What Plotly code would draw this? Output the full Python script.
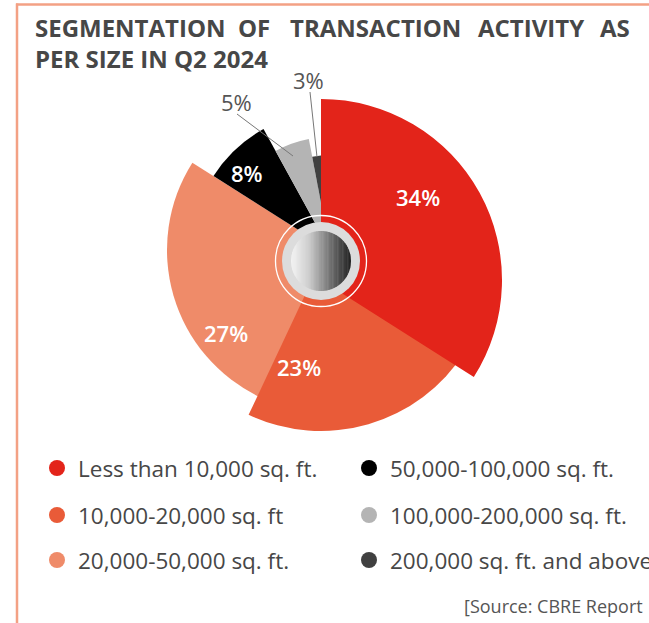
import numpy as np
import plotly.graph_objects as go

# --- data -------------------------------------------------------------
categories = [
    "Less than 10,000 sq. ft.",
    "10,000-20,000 sq. ft",
    "20,000-50,000 sq. ft.",
    "50,000-100,000 sq. ft.",
    "100,000-200,000 sq. ft.",
    "200,000 sq. ft. and above",
]
shares = [34, 23, 27, 8, 5, 3]  # % of transactions
colors = ["#e3241a", "#e95b38", "#ef8b69", "#000000", "#b4b4b4", "#404040"]
title_words_1 = ["SEGMENTATION", "OF", "TRANSACTION", "ACTIVITY", "AS"]
title_line_2 = "PER SIZE IN Q2 2024"
source_note = "[Source: CBRE Report"

# --- styling ----------------------------------------------------------
W, H = 649, 623
CX, CY = 321, 261            # hub centre (px)
HALF = 200                   # half-size of each polar domain (px)
TEXT = "#474747"
BORDER = "#f3a184"

# the exploded-look pie: each slice group has its own pivot and radius
slice_radius = [181, 170, 163, 138, 113, 95]
slice_group = [2, 1, 0, 0, 0, 0]                 # drawing layer per slice
group_pivot = [(330, 250), (321, 261), (321, 280)]


def polar_layout(cx, cy):
    return dict(
        domain=dict(
            x=[(cx - HALF) / W, (cx + HALF) / W],
            y=[(H - cy - HALF) / H, (H - cy + HALF) / H],
        ),
        bgcolor="rgba(0,0,0,0)",
        radialaxis=dict(visible=False, range=[0, HALF]),
        angularaxis=dict(visible=False, direction="clockwise", rotation=90),
        hole=0,
    )


widths = np.array(shares) * 3.6
starts = np.concatenate([[0], np.cumsum(widths)[:-1]])
mids = starts + widths / 2

fig = go.Figure()
polar_names = ["polar", "polar2", "polar3"]
for g, name in enumerate(polar_names):
    idx = [i for i in range(len(shares)) if slice_group[i] == g]
    fig.add_trace(go.Barpolar(
        r=[slice_radius[i] for i in idx],
        theta=[mids[i] for i in idx],
        width=[widths[i] for i in idx],
        marker=dict(color=[colors[i] for i in idx], line=dict(width=0)),
        subplot=name, showlegend=False, hoverinfo="skip",
    ))

# legend dots on a pixel-space overlay
col_x = [57, 369]
row_y = [468, 515, 560]
leg_x = [col_x[i // 3] for i in range(6)]
leg_y = [row_y[i % 3] for i in range(6)]
fig.add_trace(go.Scatter(
    x=leg_x, y=leg_y, mode="markers",
    marker=dict(size=16, color=colors, line=dict(width=0)),
    xaxis="x", yaxis="y", showlegend=False, hoverinfo="skip",
))

annotations = []
for name, x, y in zip(categories, leg_x, leg_y):
    annotations.append(dict(
        x=x + 19, y=y, xref="x", yref="y", text=name, showarrow=False,
        xanchor="left", yanchor="middle",
        font=dict(family="Open Sans", size=22.5, color=TEXT),
    ))

# title, spread across the full width
t_font = dict(family="Open Sans", size=24, color=TEXT, weight="bold")
word_pos = [(33, "left"), (254, "center"), (375, "center"), (531, "center"), (632, "right")]
for word, (x, anchor) in zip(title_words_1, word_pos):
    annotations.append(dict(x=x, y=27, xref="x", yref="y", text=word, showarrow=False,
                            xanchor=anchor, yanchor="middle", font=t_font))
annotations.append(dict(x=33, y=58, xref="x", yref="y", text=title_line_2, showarrow=False,
                        xanchor="left", yanchor="middle", font=t_font))

# value labels
inner_pos = [(418, 197), (299, 367), (226, 333), (247, 173)]
for v, (x, y) in zip(shares[:4], inner_pos):
    annotations.append(dict(x=x, y=y, xref="x", yref="y", text=f"{v}%", showarrow=False,
                            xanchor="center", yanchor="middle",
                            font=dict(family="Open Sans", size=22, color="white", weight=600)))
outer_pos = [(236, 102), (308, 80)]
for v, (x, y) in zip(shares[4:], outer_pos):
    annotations.append(dict(x=x, y=y, xref="x", yref="y", text=f"{v}%", showarrow=False,
                            xanchor="center", yanchor="middle",
                            font=dict(family="Open Sans", size=22, color="#555555")))

annotations.append(dict(x=462, y=606, xref="x", yref="y", text=source_note, showarrow=False,
                        xanchor="left", yanchor="middle",
                        font=dict(family="Open Sans", size=18, color="#555555")))

shapes = [
    # frame
    dict(type="line", xref="x", yref="y", x0=16, x1=W + 5, y0=4.5, y1=4.5,
         line=dict(color=BORDER, width=2.5)),
    dict(type="line", xref="x", yref="y", x0=17, x1=17, y0=3.5, y1=H + 5,
         line=dict(color=BORDER, width=2.5)),
    # leader lines for the small slices
    dict(type="line", xref="x", yref="y", x0=237, y0=114, x1=293, y1=156,
         line=dict(color="#777777", width=1)),
    dict(type="line", xref="x", yref="y", x0=310, y0=92, x1=317, y1=157,
         line=dict(color="#777777", width=1)),
    # centre hub
    dict(type="circle", xref="x", yref="y", x0=CX - 45.5, x1=CX + 45.5, y0=CY - 45.5, y1=CY + 45.5,
         line=dict(color="white", width=1.3), fillcolor="rgba(0,0,0,0)", layer="above"),
    dict(type="circle", xref="x", yref="y", x0=CX - 39, x1=CX + 39, y0=CY - 39, y1=CY + 39,
         line=dict(width=0), fillcolor="#dcdcdc", layer="above"),
]

# shaded metal knob: thin vertical strips, light on the left, dark on the right
R_KNOB = 30
stops = np.array([0.0, 0.3, 0.65, 1.0])
stop_rgb = np.array([[246, 246, 246], [205, 205, 205], [115, 115, 115], [32, 32, 32]])
N = 48
edges = np.linspace(CX - R_KNOB, CX + R_KNOB, N + 1)
for i in range(N):
    a, b = edges[i], min(edges[i + 1] + 0.4, CX + R_KNOB)
    xs = np.linspace(a, b, 4)
    half = np.sqrt(np.clip(R_KNOB ** 2 - (xs - CX) ** 2, 0, None))
    top = [(x, CY - h) for x, h in zip(xs, half)]
    bot = [(x, CY + h) for x, h in zip(xs[::-1], half[::-1])]
    path = "M " + " L ".join(f"{x:.2f},{y:.2f}" for x, y in top + bot) + " Z"
    t = (i + 0.5) / N
    rgb = [int(np.interp(t, stops, stop_rgb[:, k])) for k in range(3)]
    shapes.append(dict(type="path", xref="x", yref="y", path=path,
                       fillcolor=f"rgb({rgb[0]},{rgb[1]},{rgb[2]})",
                       line=dict(width=0), layer="above"))

fig.update_layout(
    width=W, height=H,
    margin=dict(l=0, r=0, t=0, b=0),
    paper_bgcolor="white", plot_bgcolor="rgba(0,0,0,0)",
    polar=polar_layout(*group_pivot[0]),
    polar2=polar_layout(*group_pivot[1]),
    polar3=polar_layout(*group_pivot[2]),
    xaxis=dict(range=[0, W], domain=[0, 1], visible=False, fixedrange=True),
    yaxis=dict(range=[H, 0], domain=[0, 1], visible=False, fixedrange=True),
    annotations=annotations,
    shapes=shapes,
    showlegend=False,
)

fig.write_html("out.html")
